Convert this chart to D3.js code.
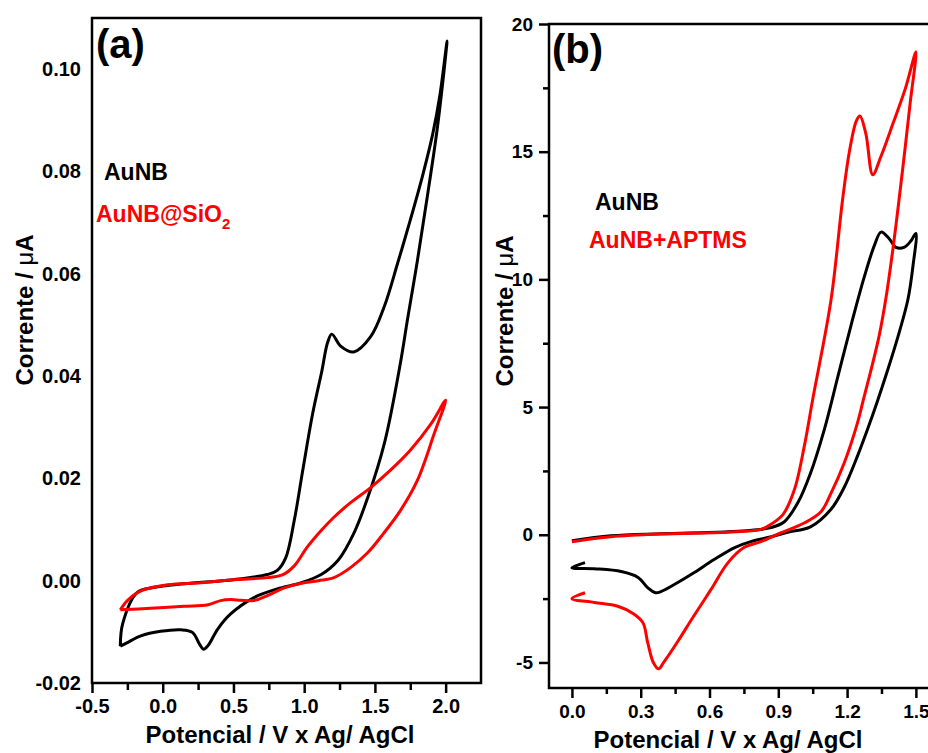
<!DOCTYPE html>
<html>
<head>
<meta charset="utf-8">
<script src="https://cdn.jsdelivr.net/npm/d3@7"></script>
<style>
  html, body { margin: 0; padding: 0; background: #fff; }
  svg { display: block; font-family: "Liberation Sans", Arial, sans-serif; font-weight: bold; }
</style>
</head>
<body>
<svg id="chart" width="928" height="753"></svg>
<script>
// ---------- DATA ----------
// Panel (a): potential (V) and current (uA)
const aAuNB_V = [-0.30,-0.283,-0.18,-0.06,0.15,0.5,0.74,0.81,0.87,0.93,0.99,1.06,1.125,1.165,1.195,1.26,1.35,1.47,1.565,1.66,1.75,1.84,1.91,1.96,2.01,1.99,1.94,1.87,1.80,1.73,1.68,1.57,1.45,1.35,1.24,1.12,0.98,0.81,0.645,0.48,0.39,0.32,0.29,0.26,0.21,0.13,-0.015,-0.155,-0.25,-0.30];
const aAuNB_I = [-0.0128,-0.0084,-0.0023,-0.0013,-0.0006,0.0002,0.0012,0.002,0.0045,0.0118,0.0216,0.0327,0.041,0.0465,0.0482,0.0458,0.0447,0.0477,0.0535,0.062,0.0705,0.0795,0.0875,0.095,0.1055,0.100,0.0882,0.075,0.0625,0.051,0.0425,0.0272,0.0163,0.0092,0.004,0.0012,-0.0004,-0.0016,-0.0033,-0.0065,-0.0094,-0.0127,-0.0134,-0.0124,-0.0101,-0.0096,-0.0099,-0.0108,-0.0121,-0.0128];
const aSiO2_V = [-0.30,-0.25,-0.155,0.035,0.27,0.5,0.74,0.85,0.93,1.02,1.12,1.21,1.33,1.47,1.61,1.75,1.90,2.0,1.92,1.80,1.68,1.56,1.45,1.33,1.21,1.10,0.98,0.86,0.74,0.645,0.55,0.48,0.41,0.32,0.15,-0.085,-0.30];
const aSiO2_I = [-0.0057,-0.0039,-0.002,-0.0008,-0.0004,0.0002,0.0006,0.0012,0.0029,0.0065,0.0098,0.0124,0.0153,0.0182,0.0216,0.0255,0.0308,0.0353,0.0288,0.0196,0.0137,0.0092,0.0055,0.0026,0.0006,0.0,-0.0005,-0.0014,-0.0029,-0.0039,-0.0038,-0.0037,-0.0039,-0.0047,-0.0050,-0.0054,-0.0057];
// Panel (b)
const bAuNB_V = [0.0,0.17,0.39,0.68,0.82,0.868,0.925,0.985,1.04,1.10,1.16,1.22,1.275,1.32,1.348,1.383,1.413,1.448,1.478,1.50,1.487,1.465,1.42,1.377,1.333,1.29,1.246,1.187,1.13,1.04,0.94,0.87,0.78,0.71,0.62,0.53,0.46,0.39,0.365,0.33,0.29,0.215,0.097,0.0,0.057];
const bAuNB_I = [-0.23,-0.04,0.04,0.12,0.21,0.28,0.5,1.25,2.4,4.1,6.2,8.3,10.1,11.35,11.85,11.6,11.25,11.25,11.5,11.8,10.5,9.2,7.7,6.45,5.25,4.15,3.1,1.85,1.0,0.31,0.1,-0.08,-0.27,-0.5,-0.97,-1.5,-1.88,-2.22,-2.27,-2.07,-1.68,-1.44,-1.33,-1.29,-1.09];
const bAPTMS_V = [0.0,0.17,0.39,0.68,0.82,0.853,0.92,0.97,1.013,1.05,1.13,1.18,1.21,1.24,1.256,1.282,1.312,1.347,1.40,1.455,1.50,1.475,1.45,1.425,1.40,1.37,1.34,1.30,1.27,1.246,1.187,1.13,1.086,1.013,0.91,0.824,0.75,0.68,0.606,0.53,0.46,0.40,0.378,0.355,0.33,0.31,0.27,0.2,0.097,0.0,0.057];
const bAPTMS_I = [-0.27,-0.08,0.03,0.1,0.2,0.33,0.79,1.76,3.45,5.3,9.2,13.1,15.0,16.2,16.4,15.7,14.1,14.8,16.1,17.5,18.9,16.9,14.9,13.0,11.2,9.3,7.8,6.3,5.25,4.4,2.8,1.63,0.9,0.46,0.07,-0.27,-0.5,-1.1,-2.15,-3.2,-4.2,-5.0,-5.25,-5.0,-4.2,-3.45,-3.1,-2.8,-2.65,-2.5,-2.27];

// Tick values
const aXTicks = [-0.5, 0.0, 0.5, 1.0, 1.5, 2.0];
const aXMinor = [-0.25, 0.25, 0.75, 1.25, 1.75];
const aYTicks = [-0.02, 0.00, 0.02, 0.04, 0.06, 0.08, 0.10];
const bXTicks = [0.0, 0.3, 0.6, 0.9, 1.2, 1.5];
const bXMinor = [0.15, 0.45, 0.75, 1.05, 1.35];
const bYTicks = [-5, 0, 5, 10, 15, 20];
const bYMinor = [-2.5, 2.5, 7.5, 12.5, 17.5];

const aLegend = ["AuNB", "AuNB@SiO"];
const bLegend = ["AuNB", "AuNB+APTMS"];

// ---------- DRAW ----------
const svg = d3.select("#chart");
const RED = "#ff0000";

function fmtNum(d, p) { return d.toFixed(p); }

// Panel (a)
const xa = d3.scaleLinear().domain([-0.5, 2.25]).range([92, 481]);
const ya = d3.scaleLinear().domain([-0.02, 0.11]).range([683, 18]);

const ga = svg.append("g");
ga.append("rect").attr("x", 92).attr("y", 18).attr("width", 481 - 92).attr("height", 683 - 18)
  .attr("fill", "none").attr("stroke", "#000").attr("stroke-width", 2.5);

const axA = ga.append("g").attr("transform", "translate(0,683)")
  .call(d3.axisBottom(xa).tickValues(aXTicks).tickSize(10).tickSizeOuter(0).tickPadding(6).tickFormat(d => fmtNum(d, 1)));
const axAm = ga.append("g").attr("transform", "translate(0,683)")
  .call(d3.axisBottom(xa).tickValues(aXMinor).tickSize(7).tickSizeOuter(0).tickFormat(""));
const ayA = ga.append("g").attr("transform", "translate(92,0)")
  .call(d3.axisLeft(ya).tickValues(aYTicks).tickSize(0).tickSizeOuter(0).tickPadding(11).tickFormat(d => fmtNum(d, 2)));
[axA, axAm, ayA].forEach(g => {
  g.select(".domain").remove();
  g.selectAll("line").attr("stroke-width", 2.5);
  g.selectAll("text").attr("font-size", 20).attr("font-weight", "bold").attr("fill", "#000")
    .attr("font-family", "'Liberation Sans', Arial, sans-serif");
});

const lineA = d3.line().x(d => xa(d[0])).y(d => ya(d[1])).curve(d3.curveCatmullRom.alpha(0.5));
ga.append("path").attr("d", lineA(d3.zip(aAuNB_V, aAuNB_I))).attr("fill", "none").attr("stroke", "#000").attr("stroke-width", 3).attr("stroke-linejoin", "round");
ga.append("path").attr("d", lineA(d3.zip(aSiO2_V, aSiO2_I))).attr("fill", "none").attr("stroke", RED).attr("stroke-width", 3).attr("stroke-linejoin", "round");

ga.append("text").attr("x", 96).attr("y", 58).attr("font-size", 40).text("(a)");
ga.append("text").attr("x", 104).attr("y", 180).attr("font-size", 23).attr("fill", "#000").text(aLegend[0]);
const legA2 = ga.append("text").attr("x", 96).attr("y", 222).attr("font-size", 23).attr("fill", RED);
legA2.append("tspan").text(aLegend[1]);
legA2.append("tspan").attr("font-size", 15).attr("dy", 7).text("2");

ga.append("text").attr("transform", "translate(33,310) rotate(-90)").attr("text-anchor", "middle").attr("font-size", 24)
  .call(t => { t.append("tspan").text("Corrente / "); t.append("tspan").attr("font-weight", "normal").text("μ"); t.append("tspan").text("A"); });
ga.append("text").attr("x", 280).attr("y", 743).attr("text-anchor", "middle").attr("font-size", 24).text("Potencial / V x Ag/ AgCl");

// Panel (b)
const xb = d3.scaleLinear().domain([-0.1, 1.6]).range([549, 549 + 1.7 * 229.3]);
const yb = d3.scaleLinear().domain([-6, 20]).range([688, 24]);

const gb = svg.append("g");
gb.append("rect").attr("x", 549).attr("y", 24).attr("width", 400).attr("height", 688 - 24)
  .attr("fill", "none").attr("stroke", "#000").attr("stroke-width", 2.5);

const bxA = gb.append("g").attr("transform", "translate(0,688)")
  .call(d3.axisBottom(xb).tickValues(bXTicks).tickSize(10).tickSizeOuter(0).tickPadding(7).tickFormat(d => fmtNum(d, 1)));
const bxAm = gb.append("g").attr("transform", "translate(0,688)")
  .call(d3.axisBottom(xb).tickValues(bXMinor).tickSize(6).tickSizeOuter(0).tickFormat(""));
const byA = gb.append("g").attr("transform", "translate(549,0)")
  .call(d3.axisLeft(yb).tickValues(bYTicks).tickSize(10).tickSizeOuter(0).tickPadding(6).tickFormat(d => String(d)));
const byAm = gb.append("g").attr("transform", "translate(549,0)")
  .call(d3.axisLeft(yb).tickValues(bYMinor).tickSize(6).tickSizeOuter(0).tickFormat(""));
[bxA, bxAm, byA, byAm].forEach(g => {
  g.select(".domain").remove();
  g.selectAll("line").attr("stroke-width", 2.5);
  g.selectAll("text").attr("font-size", 19).attr("font-weight", "bold").attr("fill", "#000")
    .attr("font-family", "'Liberation Sans', Arial, sans-serif");
});

const lineB = d3.line().x(d => xb(d[0])).y(d => yb(d[1])).curve(d3.curveCatmullRom.alpha(0.5));
gb.append("path").attr("d", lineB(d3.zip(bAuNB_V, bAuNB_I))).attr("fill", "none").attr("stroke", "#000").attr("stroke-width", 3).attr("stroke-linejoin", "round");
gb.append("path").attr("d", lineB(d3.zip(bAPTMS_V, bAPTMS_I))).attr("fill", "none").attr("stroke", RED).attr("stroke-width", 3).attr("stroke-linejoin", "round");

gb.append("text").attr("x", 552).attr("y", 63).attr("font-size", 40).text("(b)");
gb.append("text").attr("x", 595).attr("y", 210).attr("font-size", 23).attr("fill", "#000").text(bLegend[0]);
gb.append("text").attr("x", 589).attr("y", 248).attr("font-size", 23).attr("fill", RED).text(bLegend[1]);

gb.append("text").attr("transform", "translate(513,311) rotate(-90)").attr("text-anchor", "middle").attr("font-size", 24)
  .call(t => { t.append("tspan").text("Corrente / "); t.append("tspan").attr("font-weight", "normal").text("μ"); t.append("tspan").text("A"); });
gb.append("text").attr("x", 728).attr("y", 748).attr("text-anchor", "middle").attr("font-size", 24).text("Potencial / V x Ag/ AgCl");
</script>
</body>
</html>
